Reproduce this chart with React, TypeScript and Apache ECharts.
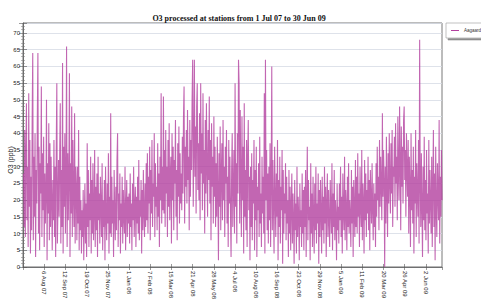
import React, { useEffect, useRef } from "react";
import * as echarts from "echarts";

const chartTitle = "O3 processed at stations from 1 Jul 07 to 30 Jun 09";
const seriesName = "Aagaard";
const yAxisName = "O3 (ppb)";

const tickLabels = ["6 Aug 07", "12 Sep 07", "19 Oct 07", "25 Nov 07", "1 Jan 08", "7 Feb 08", "15 Mar 08", "21 Apr 08", "28 May 08", "4 Jul 08", "10 Aug 08", "16 Sep 08", "23 Oct 08", "29 Nov 08", "5 Jan 09", "11 Feb 09", "20 Mar 09", "26 Apr 09", "2 Jun 09"];

// daily O3 (ppb), one array per month
const jul07 = [28,12,41,9,35,49,14,30,6,52,18,38,4,27,11,44,64,8,33,15,40,3,29,19,45,64,10,36,5,31,22];
const aug07 = [54,9,34,17,39,6,28,13,22,50,2,31,16,43,8,37,12,33,20,5,26,14,38,9,30,3,35,55,7,18,32];
const sep07 = [15,33,49,7,29,12,61,4,36,18,40,10,25,66,6,34,14,27,58,3,31,16,48,9,38,21,12,46,7,30];
const oct07 = [24,8,30,13,41,5,27,11,20,4,17,9,23,2,15,25,7,19,3,37,12,29,6,22,14,33,4,26,10,31,8];
const nov07 = [16,35,6,24,11,28,3,33,14,22,7,27,18,9,31,5,20,12,26,2,30,15,8,25,13,34,4,21,10,46];
const dec07 = [9,27,13,20,3,29,16,8,24,11,32,40,6,22,14,28,4,19,12,27,7,23,15,10,30,5,18,26,9,21,13];
const jan08 = [22,7,28,12,19,5,25,14,30,9,18,24,6,21,13,27,10,32,8,20,15,26,4,23,11,29,16,9,25,12,31];
const feb08 = [14,34,10,27,19,36,8,29,16,38,12,25,21,40,9,31,18,24,11,37,15,28,6,33,20,52,13,30,17];
const mar08 = [51,16,35,12,41,22,30,9,38,18,43,14,27,33,7,40,20,36,11,32,25,44,15,29,8,37,21,42,13,34,19];
const apr08 = [28,17,39,22,45,54,13,36,24,41,19,47,26,33,11,44,21,38,29,50,62,18,35,62,27,42,16,48,55,23];
const may08 = [37,20,46,14,55,28,40,17,52,25,35,10,44,22,49,30,15,41,26,51,19,38,8,43,24,33,13,45,21,36,12];
const jun08 = [31,15,39,22,2,34,18,42,11,28,37,14,44,20,30,9,36,25,41,13,27,6,38,19,33,16,3,29,40,12];
const jul08 = [24,35,10,55,18,31,7,40,22,62,55,13,47,26,9,45,20,36,4,49,15,29,11,38,6,33,44,17,27,2,30];
const aug08 = [12,34,8,26,19,38,5,29,14,36,3,24,17,31,9,39,13,22,6,33,16,27,10,52,4,62,20,35,11,28,7];
const sep08 = [30,14,37,6,25,60,11,32,18,4,36,21,9,28,15,38,2,26,12,33,7,24,17,35,1,29,10,22,16,31];
const oct08 = [8,27,13,20,3,29,10,24,5,18,28,7,22,14,1,26,11,19,4,30,9,21,15,2,25,12,17,6,28,10,23];
const nov08 = [5,24,12,29,3,20,36,8,26,14,18,2,31,10,22,6,27,15,4,25,11,30,7,19,13,28,1,23,9,26];
const dec08 = [16,4,27,11,21,7,30,13,24,3,19,28,9,23,14,6,26,17,10,31,5,22,12,29,8,20,15,2,25,11,18];
const jan09 = [7,25,14,30,9,21,4,28,16,11,33,8,23,18,5,27,12,31,10,20,15,6,29,13,24,3,26,17,9,32,12];
const feb09 = [27,10,34,15,22,6,30,18,12,35,8,25,19,4,32,14,28,9,23,16,33,11,26,5,29,20,13,31];
const mar09 = [17,8,25,12,22,6,31,15,36,20,27,11,38,18,33,24,14,46,21,35,26,0,30,13,39,22,9,34,19,40,25];
const apr09 = [16,37,22,41,12,30,27,39,18,43,25,33,14,45,28,20,48,31,11,42,24,36,19,44,48,26,35,15,40,29];
const may09 = [21,38,10,33,24,6,40,17,29,13,36,4,27,19,41,9,31,22,15,38,7,68,25,12,34,18,3,30,14,39,11];
const jun09 = [26,8,35,16,22,4,38,13,29,19,10,33,6,24,41,12,28,2,36,17,9,31,21,14,44,7,27,15,35,20];

const months: [number, number, number[]][] = [
  [2007, 6, jul07], [2007, 7, aug07], [2007, 8, sep07], [2007, 9, oct07], [2007, 10, nov07], [2007, 11, dec07],
  [2008, 0, jan08], [2008, 1, feb08], [2008, 2, mar08], [2008, 3, apr08], [2008, 4, may08], [2008, 5, jun08],
  [2008, 6, jul08], [2008, 7, aug08], [2008, 8, sep08], [2008, 9, oct08], [2008, 10, nov08], [2008, 11, dec08],
  [2009, 0, jan09], [2009, 1, feb09], [2009, 2, mar09], [2009, 3, apr09], [2009, 4, may09], [2009, 5, jun09],
];

const DAY_MS = 86400000;
const origin = Date.UTC(2007, 5, 30);

export default function App() {
  const ref = useRef<HTMLDivElement>(null);
  useEffect(() => {
    if (!ref.current) return;
    const chart = echarts.init(ref.current, null, { renderer: "svg" });
    const data: [number, number][] = [];
    months.forEach(([y, m, vals]) => {
      vals.forEach((v, i) => {
        data.push([(Date.UTC(y, m, i + 1) - origin) / DAY_MS, v]);
      });
    });
    const xFmt = (v: number) => {
      const k = Math.round(v / 37);
      if (k >= 1 && Math.abs(v - k * 37) < 0.01) return tickLabels[k - 1] ?? "";
      return "";
    };
    const labelFont = { fontFamily: "Liberation Sans", fontSize: 6, color: "#222" };
    chart.setOption({
      animation: false,
      backgroundColor: "#fff",
      title: {
        text: chartTitle,
        left: 234,
        textAlign: "center",
        top: 9,
        textStyle: { fontFamily: "Liberation Serif", fontWeight: "bold", fontSize: 8, color: "#111" },
      },
      legend: {
        show: true,
        left: 446,
        top: 23,
        orient: "vertical",
        data: [{ name: seriesName, icon: "rect" }],
        itemWidth: 8,
        itemHeight: 1,
        itemGap: 2,
        padding: [5, 3, 5, 5],
        backgroundColor: "#fff",
        borderColor: "#999",
        borderWidth: 0.6,
        shadowColor: "rgba(0,0,0,0.45)",
        shadowBlur: 1,
        shadowOffsetX: 2,
        shadowOffsetY: 2,
        textStyle: { fontFamily: "Liberation Sans", fontSize: 4.5, color: "#333", padding: [0, 0, 0, 0] },
      },
      grid: { left: 23, right: 39, top: 23, bottom: 30, show: true, borderColor: "#555", borderWidth: 0.8 },
      xAxis: [
        {
          type: "value",
          min: 0,
          max: 731,
          interval: 37,
          position: "bottom",
          axisLine: { show: true, lineStyle: { color: "#555", width: 0.8 } },
          axisTick: { show: true, inside: true, length: 3, lineStyle: { color: "#555", width: 0.6 } },
          splitLine: { show: false },
          axisLabel: { ...labelFont, rotate: -90, margin: 4, formatter: xFmt, showMinLabel: false, showMaxLabel: false },
        },
        {
          type: "value",
          min: 0,
          max: 731,
          interval: 37,
          position: "top",
          axisLine: { show: false },
          axisTick: { show: true, inside: true, length: 3, lineStyle: { color: "#555", width: 0.6 } },
          splitLine: { show: false },
          axisLabel: { show: false },
        },
      ],
      yAxis: [
        {
          type: "value",
          min: 0,
          max: 73,
          interval: 5,
          axisLine: { show: true, lineStyle: { color: "#555", width: 0.8 } },
          axisTick: { show: true, inside: true, length: 4, lineStyle: { color: "#555", width: 0.6 } },
          minorTick: { show: true, splitNumber: 5, length: 2, lineStyle: { color: "#777", width: 0.5 } },
          splitLine: { show: true, lineStyle: { color: "#d5dbe5", width: 0.8 } },
          axisLabel: { ...labelFont, margin: 3, showMaxLabel: false },
        },
        {
          type: "value",
          min: 0,
          max: 73,
          interval: 5,
          position: "right",
          axisLine: { show: false },
          axisTick: { show: true, inside: true, length: 4, lineStyle: { color: "#555", width: 0.6 } },
          minorTick: { show: true, splitNumber: 5, length: 2, lineStyle: { color: "#777", width: 0.5 } },
          splitLine: { show: false },
          axisLabel: { show: false },
        },
      ],
      graphic: [
        {
          type: "text",
          x: 10,
          y: 160,
          rotation: Math.PI / 2,
          style: {
            text: yAxisName,
            fontFamily: "Liberation Sans",
            fontSize: 7,
            fill: "#222",
            align: "center",
            verticalAlign: "middle",
          },
        },
      ],
      series: [
        {
          name: seriesName,
          type: "line",
          xAxisIndex: 0,
          yAxisIndex: 0,
          data,
          showSymbol: false,
          symbol: "none",
          lineStyle: { color: "#b3409f", width: 1.1, opacity: 0.8 },
          itemStyle: { color: "#b3409f" },
        },
      ],
    });
    return () => chart.dispose();
  }, []);
  return <div ref={ref} style={{ position: "fixed", left: 0, top: 0, width: 481, height: 302 }} />;
}
